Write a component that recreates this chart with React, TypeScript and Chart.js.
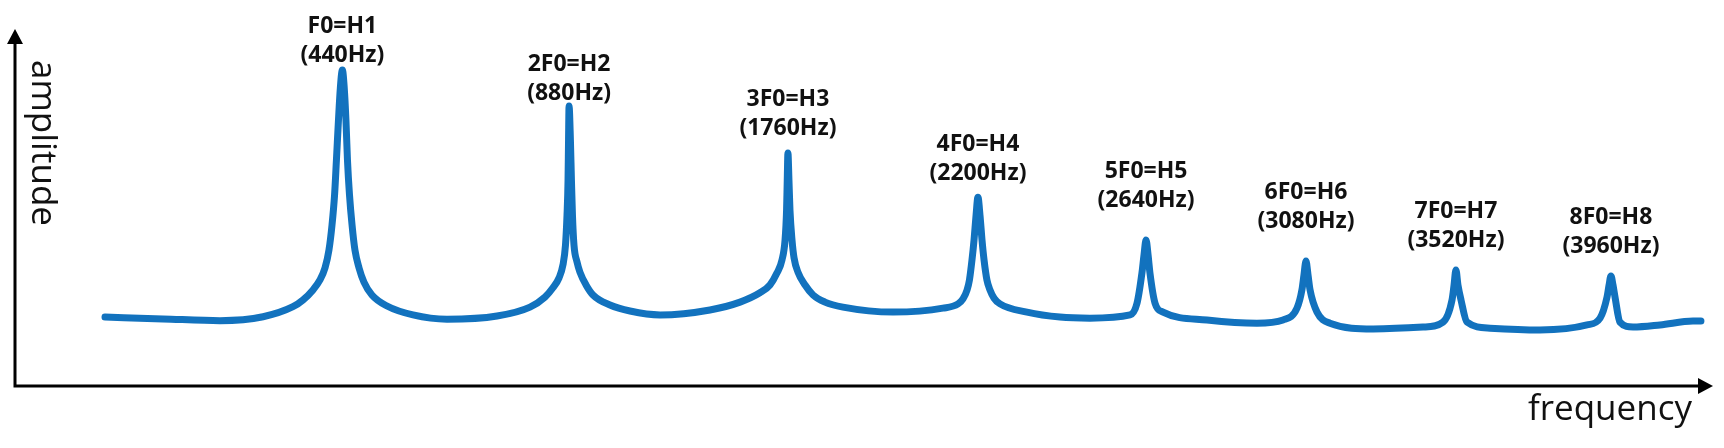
import React, { useEffect, useRef } from "react";
import { Chart, registerables } from "chart.js";

Chart.register(...registerables);

// frequency (arbitrary units along the axis, 0..1000)
const frequency: number[] = [
  53.0, 87.2, 120.7, 146.1, 163.7, 169.6, 175.5, 179.6, 182.6, 184.9, 186.7, 188.2, 189.3, 190.5, 191.6,
  192.8, 193.9, 194.9, 195.8, 197.0, 198.5, 200.2, 202.6, 205.5, 210.2, 219.1, 234.4, 254.4, 283.9, 303.3,
  312.1, 316.8, 320.4, 322.7, 324.2, 325.1, 325.7, 326.0, 326.3, 327.1, 327.7, 328.3, 329.2, 331.0, 332.7,
  336.3, 340.4, 350.4, 362.2, 379.9, 409.3, 427.0, 438.7, 444.6, 448.8, 451.7, 453.5, 454.4, 454.8, 455.2,
  455.8, 456.4, 457.6, 458.8, 461.1, 465.3, 470.0, 477.0, 487.6, 517.1, 546.5, 555.4, 558.3, 560.7, 562.1,
  563.6, 564.8, 566.0, 567.1, 568.3, 569.5, 570.7, 572.4, 574.2, 576.6, 580.1, 596.0, 615.4, 633.1, 656.7,
  660.8, 663.7, 664.9, 666.1, 667.3, 668.4, 671.4, 676.1, 702.0, 731.4, 746.8, 755.0, 757.9, 759.1, 760.3,
  761.5, 762.7, 766.8, 774.4, 799.8, 829.2, 841.0, 846.3, 847.5, 848.6, 849.8, 851.6, 855.1, 868.7, 898.1,
  925.8, 933.5, 937.6, 938.8, 939.9, 941.1, 942.3, 945.2, 952.9, 968.8, 988.2, 992.9,
];

// amplitude (0..100)
const amplitude: number[] = [
  19.3, 18.8, 18.3, 19.4, 22.2, 24.1, 26.9, 29.7, 33.1, 38.1, 45.1, 53.5, 63.3, 74.5, 83.5,
  88.5, 83.5, 74.5, 63.3, 53.5, 45.1, 38.1, 33.1, 29.1, 25.5, 22.4, 19.9, 18.7, 19.6, 22.1,
  24.9, 27.5, 30.3, 33.9, 39.5, 47.9, 57.7, 68.9, 78.4, 68.9, 57.7, 47.9, 39.5, 34.7, 31.9,
  28.3, 25.5, 22.7, 21.0, 19.9, 21.3, 23.5, 26.1, 28.3, 31.7, 35.3, 40.9, 49.3, 57.7, 65.3,
  57.7, 49.3, 40.9, 35.9, 31.9, 28.3, 25.5, 23.5, 22.1, 20.7, 21.8, 23.0, 24.4, 26.9, 29.7,
  35.3, 40.9, 47.9, 52.9, 47.9, 40.9, 35.3, 29.7, 26.9, 24.6, 23.0, 20.7, 19.3, 19.0, 19.9,
  23.2, 31.7, 36.7, 40.9, 36.7, 31.7, 23.2, 20.7, 18.5, 17.6, 18.5, 21.8, 26.9, 31.1, 35.0,
  31.1, 26.9, 20.7, 17.6, 16.0, 16.5, 17.9, 24.1, 28.3, 32.5, 28.3, 24.1, 17.9, 16.2, 15.7,
  17.1, 19.0, 24.9, 28.3, 30.8, 28.3, 24.9, 17.9, 16.5, 17.1, 18.2, 18.2,
];

// harmonic annotations
const peakFrequency: number[] = [192.8, 326.3, 455.2, 567.1, 666.1, 760.3, 848.6, 939.9];
const harmonicNames: string[] = ["F0=H1", "2F0=H2", "3F0=H3", "4F0=H4", "5F0=H5", "6F0=H6", "7F0=H7", "8F0=H8"];
const harmonicHz: string[] = ["(440Hz)", "(880Hz)", "(1760Hz)", "(2200Hz)", "(2640Hz)", "(3080Hz)", "(3520Hz)", "(3960Hz)"];
const labelLevel: number[] = [90.8, 80.1, 70.3, 57.7, 50.1, 44.3, 38.9, 37.3];

const xAxisTitle = "frequency";
const yAxisTitle = "amplitude";

const annotationPlugin = {
  id: "spectrumAnnotations",
  afterDraw(chart: any) {
    const { ctx, chartArea } = chart;
    const xs = chart.scales.x;
    const ys = chart.scales.y;
    const { left, right, top, bottom } = chartArea;
    ctx.save();
    // axes
    ctx.strokeStyle = "#000";
    ctx.fillStyle = "#000";
    ctx.lineWidth = 3;
    ctx.lineCap = "butt";
    ctx.beginPath();
    ctx.moveTo(left, bottom + 1.5);
    ctx.lineTo(left, top + 14);
    ctx.moveTo(left - 1.5, bottom);
    ctx.lineTo(right - 14, bottom);
    ctx.stroke();
    // arrowheads
    ctx.beginPath();
    ctx.moveTo(left, top);
    ctx.lineTo(left - 8, top + 15);
    ctx.lineTo(left + 8, top + 15);
    ctx.closePath();
    ctx.fill();
    ctx.beginPath();
    ctx.moveTo(right, bottom);
    ctx.lineTo(right - 15, bottom - 8);
    ctx.lineTo(right - 15, bottom + 8);
    ctx.closePath();
    ctx.fill();

    // axis titles
    ctx.fillStyle = "#111";
    ctx.font = "400 35px 'Open Sans', sans-serif";
    ctx.textBaseline = "alphabetic";
    ctx.textAlign = "right";
    ctx.fillText(xAxisTitle, right - 21, bottom + 34);
    ctx.save();
    ctx.translate(left + 17, top + 31);
    ctx.rotate(Math.PI / 2);
    ctx.textAlign = "left";
    ctx.fillText(yAxisTitle, 0, 0);
    ctx.restore();

    // harmonic labels
    ctx.font = "700 23px 'Open Sans', sans-serif";
    ctx.textAlign = "center";
    ctx.fillStyle = "#111";
    for (let i = 0; i < harmonicNames.length; i++) {
      const px = xs.getPixelForValue(peakFrequency[i]);
      const py = ys.getPixelForValue(labelLevel[i]);
      ctx.fillText(harmonicNames[i], px, py - 29);
      ctx.fillText(harmonicHz[i], px, py);
    }
    ctx.restore();
  },
};

export default function App() {
  const canvasRef = useRef<HTMLCanvasElement | null>(null);

  useEffect(() => {
    const canvas = canvasRef.current;
    if (!canvas) return;
    const data = frequency.map((f, i) => ({ x: f, y: amplitude[i] }));
    const chart = new Chart(canvas, {
      type: "line",
      data: {
        datasets: [
          {
            label: yAxisTitle,
            data,
            borderColor: "#1272BE",
            borderWidth: 7,
            pointRadius: 0,
            fill: false,
            cubicInterpolationMode: "monotone",
            borderCapStyle: "round",
            borderJoinStyle: "round",
          } as any,
        ],
      },
      options: {
        responsive: false,
        animation: false,
        devicePixelRatio: 1,
        layout: { padding: { left: 15, right: 11, top: 29, bottom: 62 } },
        plugins: {
          legend: { display: false },
          tooltip: { enabled: false },
          title: { display: false },
        },
        scales: {
          x: { type: "linear", min: 0, max: 1000, display: false },
          y: { type: "linear", min: 0, max: 100, display: false },
        },
      },
      plugins: [annotationPlugin],
    });
    return () => chart.destroy();
  }, []);

  return (
    <div style={{ position: "fixed", left: 0, top: 0, width: 1724, height: 448, background: "#fff" }}>
      <canvas ref={canvasRef} width={1724} height={448} style={{ display: "block" }} />
    </div>
  );
}
